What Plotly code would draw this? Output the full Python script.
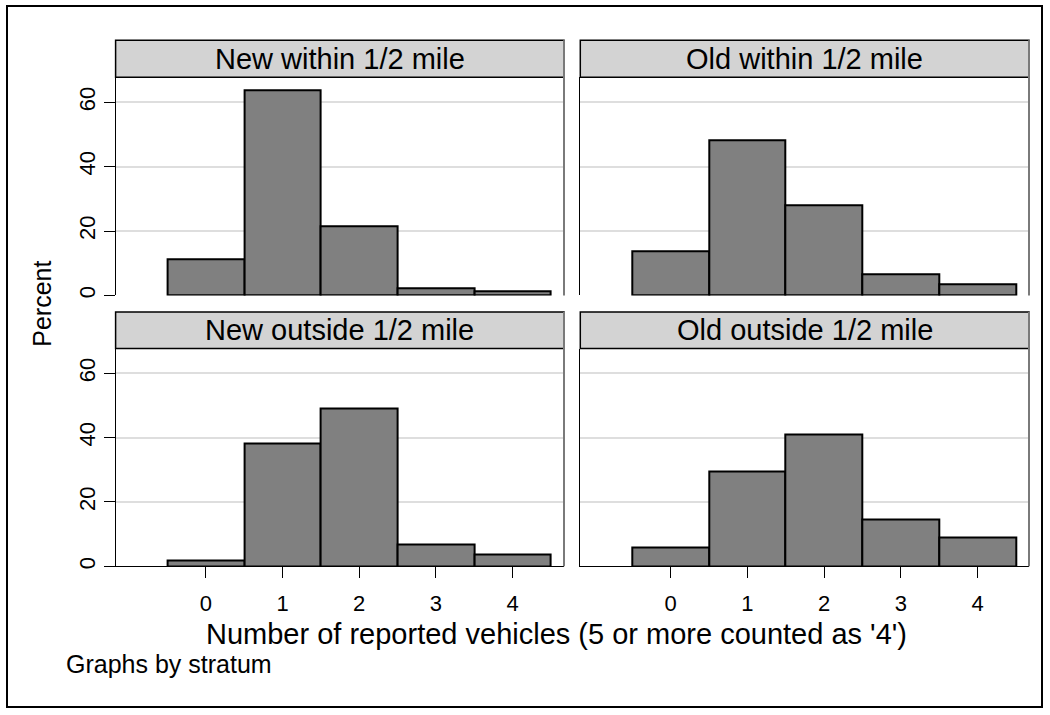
import plotly.graph_objects as go

W, H = 1050, 715

# ---- data ----
categories = [0, 1, 2, 3, 4]
panel_titles = ["New within 1/2 mile", "Old within 1/2 mile",
                "New outside 1/2 mile", "Old outside 1/2 mile"]
new_within = [11.1, 63.8, 21.6, 2.1, 1.3]
old_within = [13.7, 48.2, 27.9, 6.7, 3.5]
new_outside = [1.7, 38.3, 49.2, 6.9, 3.6]
old_outside = [5.8, 29.5, 41.0, 14.6, 9.1]
y_ticks = [0, 20, 40, 60]
x_ticks = [0, 1, 2, 3, 4]
y_title = "Percent"
x_title = "Number of reported vehicles (5 or more counted as '4')"
note = "Graphs by stratum"

series = [new_within, old_within, new_outside, old_outside]

FONT = "Arial, 'Liberation Sans', Helvetica, sans-serif"

def px_x(p):
    return p / W

def px_y(p):
    return 1 - p / H

# panel geometry (pixels)
cols = [(115.6, 564.0), (580.3, 1029.0)]
rows = [(77.7, 296.7), (350.0, 568.7)]
headers = [(40.3, 77.7), (313.3, 350.0)]

fig = go.Figure()

for i, vals in enumerate(series):
    r, c = divmod(i, 2)
    ax = "" if i == 0 else str(i + 1)
    fig.add_trace(go.Bar(
        x=categories, y=vals, width=1.0,
        marker=dict(color="#808080", line=dict(color="black", width=2)),
        xaxis="x" + ax, yaxis="y" + ax, showlegend=False,
        hoverinfo="x+y",
    ))
    x0, x1 = cols[c]
    y0, y1 = rows[r]
    bottom = (r == 1)
    left = (c == 0)
    fig.update_layout(**{
        "xaxis" + ax: dict(
            domain=[px_x(x0), px_x(x1)], range=[-1.178, 4.671],
            anchor="y" + ax, showgrid=False, zeroline=False,
            showline=bottom, linecolor="black", linewidth=1,
            ticks="outside" if bottom else "", ticklen=11, tickcolor="black",
            tickvals=x_ticks, showticklabels=bottom, ticklabelstandoff=6,
            tickfont=dict(family=FONT, size=22, color="black"),
        ),
        "yaxis" + ax: dict(
            domain=[px_y(y1), px_y(y0)], range=[0, 67.7],
            anchor="x" + ax, showgrid=True, gridcolor="#dedede", gridwidth=1.5,
            zeroline=False, showline=True, linecolor="black", linewidth=1,
            ticks="outside" if left else "", ticklen=11, tickcolor="black",
            tickvals=y_ticks, showticklabels=left, tickangle=-90,
            tickfont=dict(family=FONT, size=22, color="black"),
        ),
    })

shapes = []
annotations = []
for i, title in enumerate(panel_titles):
    r, c = divmod(i, 2)
    x0, x1 = cols[c]
    h0, h1 = headers[r]
    y0, y1 = rows[r]
    shapes.append(dict(type="rect", xref="paper", yref="paper",
                       x0=px_x(x0), x1=px_x(x1), y0=px_y(h1), y1=px_y(h0),
                       fillcolor="#d3d3d3", line=dict(color="black", width=1.5)))
    shapes.append(dict(type="line", xref="paper", yref="paper",
                       x0=px_x(x1), x1=px_x(x1), y0=px_y(y1), y1=px_y(h0),
                       line=dict(color="#7a7a7a", width=2), layer="above"))
    annotations.append(dict(text=title, xref="paper", yref="paper",
                            x=px_x((x0 + x1) / 2), y=px_y((h0 + h1) / 2),
                            showarrow=False, xanchor="center", yanchor="middle",
                            font=dict(family=FONT, size=29, color="black")))

# outer border
shapes.append(dict(type="rect", xref="paper", yref="paper",
                   x0=px_x(7), x1=px_x(1042), y0=px_y(710), y1=px_y(6),
                   line=dict(color="black", width=2)))

annotations.append(dict(text=y_title, xref="paper", yref="paper",
                        x=px_x(42), y=px_y(305), textangle=-90, showarrow=False,
                        xanchor="center", yanchor="middle",
                        font=dict(family=FONT, size=25, color="black")))
annotations.append(dict(text=x_title, xref="paper", yref="paper",
                        x=px_x(556), y=px_y(637), showarrow=False,
                        xanchor="center", yanchor="middle",
                        font=dict(family=FONT, size=29, color="black")))
annotations.append(dict(text=note, xref="paper", yref="paper",
                        x=px_x(64), y=px_y(667), showarrow=False,
                        xanchor="left", yanchor="middle",
                        font=dict(family=FONT, size=25, color="black")))

fig.update_layout(
    width=W, height=H, margin=dict(l=0, r=0, t=0, b=0),
    paper_bgcolor="white", plot_bgcolor="white",
    bargap=0, shapes=shapes, annotations=annotations,
    font=dict(family=FONT, color="black"),
)

fig.write_html("out.html", config={"displayModeBar": False},
               post_script="document.body.style.margin='0';document.body.style.overflow='hidden';")
